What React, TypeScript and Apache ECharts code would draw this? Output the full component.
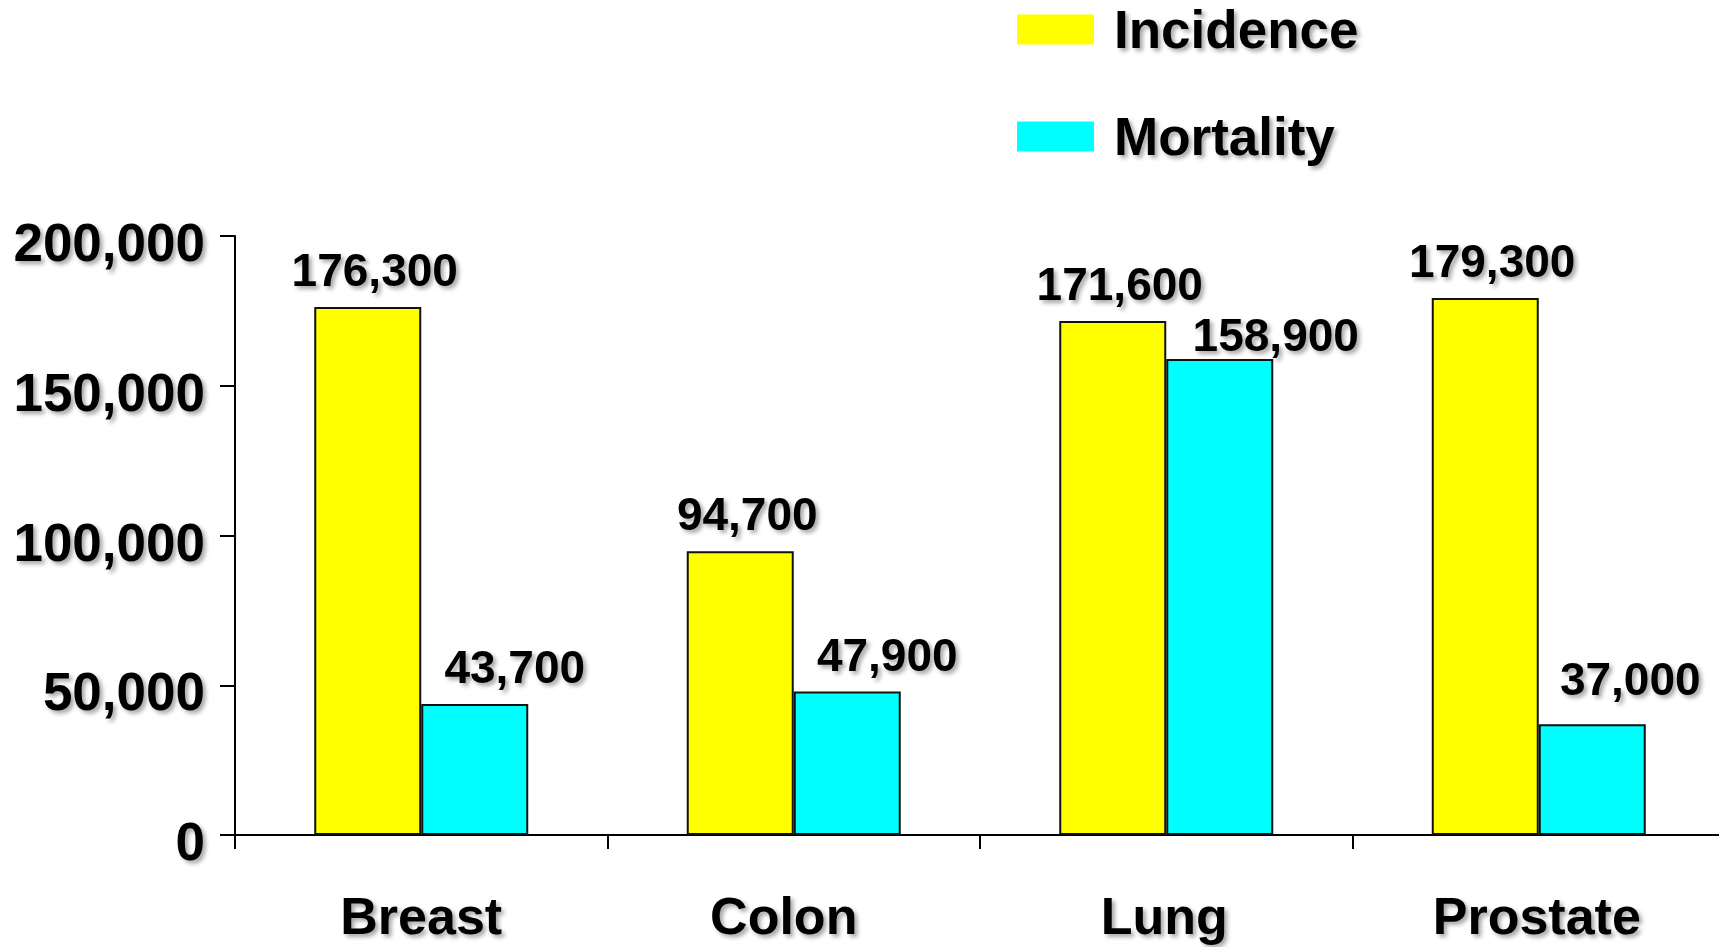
import React, { useEffect, useRef } from "react";
import * as echarts from "echarts";

// Cancer sites and yearly case counts
const categories = ["Breast", "Colon", "Lung", "Prostate"];
const incidence = [176300, 94700, 171600, 179300];
const mortality = [43700, 47900, 158900, 37000];
const yMin = 0;
const yMax = 200000;
const yStep = 50000;

// Per-bar label nudges [dx, dy] in pixels
const incidenceLabelShift = [[7, 0], [7, 0], [7, 0], [7, 0]];
const mortalityLabelShift = [[40, 0], [40, 0], [56, 13], [38, -8]];
// Right padding per category label (shifts a label leftwards by half of it)
const categoryLabelPadRight = [0, 20, 4, 4];

const FONT = "'Liberation Sans', Arial, Helvetica, sans-serif";
const shadow = {
  textShadowColor: "rgba(0,0,0,0.35)",
  textShadowBlur: 4,
  textShadowOffsetX: 3,
  textShadowOffsetY: 3,
};

const fmt = (v: number) => v.toLocaleString("en-US");

export default function App() {
  const ref = useRef<HTMLDivElement>(null);

  useEffect(() => {
    if (!ref.current) return;
    const chart = echarts.init(ref.current, null, { renderer: "svg" });

    const labelStyle = {
      show: true,
      position: "top" as const,
      distance: 14,
      fontFamily: FONT,
      fontWeight: "bold" as const,
      fontSize: 46,
      color: "#000",
      ...shadow,
      formatter: (p: any) => fmt(p.value),
    };

    const makeData = (vals: number[], shifts: number[][]) =>
      vals.map((v, i) => ({ value: v, label: { offset: shifts[i] } }));

    chart.setOption({
      animation: false,
      backgroundColor: "#ffffff",
      legend: {
        orient: "vertical",
        left: 1017,
        top: 3,
        padding: 0,
        itemWidth: 77,
        itemHeight: 30,
        itemGap: 54,
        icon: "rect",
        selectedMode: false,
        itemStyle: { borderWidth: 0 },
        textStyle: {
          fontFamily: FONT,
          fontWeight: "bold",
          fontSize: 53,
          color: "#000",
          padding: [0, 0, 0, 15],
          ...shadow,
        },
        data: ["Incidence", "Mortality"],
      },
      grid: { left: 235, right: 5, top: 236, bottom: 112, containLabel: false },
      xAxis: {
        type: "category",
        data: categories.map((c, i) => ({
          value: c,
          textStyle: { padding: [0, categoryLabelPadRight[i], 0, 0] },
        })),
        axisLine: { show: true, lineStyle: { color: "#000", width: 2 } },
        axisTick: { show: true, length: 14, lineStyle: { color: "#000", width: 2 } },
        axisLabel: {
          margin: 55,
          fontFamily: FONT,
          fontWeight: "bold",
          fontSize: 52,
          color: "#000",
          ...shadow,
        },
        splitLine: { show: false },
      },
      yAxis: {
        type: "value",
        min: yMin,
        max: yMax,
        interval: yStep,
        axisLine: { show: true, lineStyle: { color: "#000", width: 2 } },
        axisTick: { show: true, length: 15, lineStyle: { color: "#000", width: 2 } },
        axisLabel: {
          margin: 30,
          fontFamily: FONT,
          fontWeight: "bold",
          fontSize: 53,
          lineHeight: 13,
          verticalAlign: "top",
          color: "#000",
          formatter: (v: number) => fmt(v),
          ...shadow,
        },
        splitLine: { show: false },
      },
      series: [
        {
          name: "Incidence",
          type: "bar",
          barWidth: 107,
          barGap: "0%",
          itemStyle: { color: "#ffff00", borderColor: "#111", borderWidth: 2 },
          label: labelStyle,
          data: makeData(incidence, incidenceLabelShift),
        },
        {
          name: "Mortality",
          type: "bar",
          barWidth: 107,
          barGap: "0%",
          itemStyle: { color: "#00ffff", borderColor: "#111", borderWidth: 2 },
          label: labelStyle,
          data: makeData(mortality, mortalityLabelShift),
        },
      ],
    });

    return () => chart.dispose();
  }, []);

  return (
    <div
      ref={ref}
      style={{ position: "fixed", left: 0, top: 0, width: 1730, height: 947, background: "#fff" }}
    />
  );
}
